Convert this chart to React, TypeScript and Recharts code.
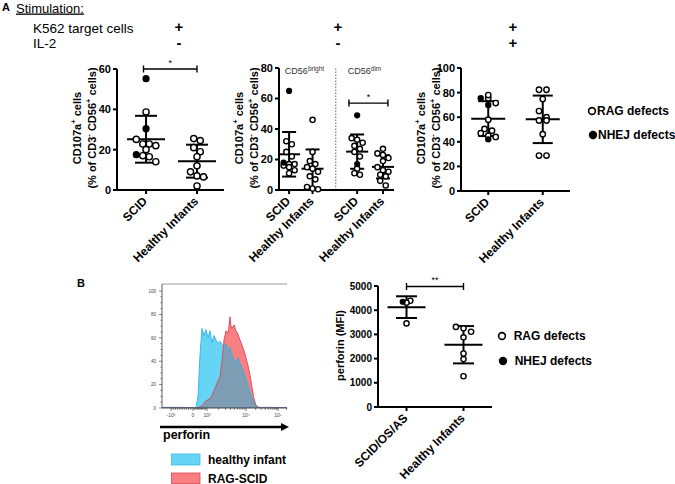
import React from 'react';
import {
  ScatterChart,
  Scatter,
  XAxis,
  YAxis,
  ReferenceLine,
  ComposedChart,
  Area,
  Line,
} from 'recharts';

const FONT = '"Liberation Sans", Arial, Helvetica, sans-serif';

// Panel A left: K562, CD107a+ of all NK cells
const a1ScidRag = [38.7, 25.1, 22.8, 22.8, 22, 20, 17, 16.5, 14];
const a1ScidNhej = [55.2, 30.4, 17.5];
const a1Healthy = [25.5, 24.5, 21, 19, 16.5, 12, 9, 7, 6.5, 2];

// Panel A middle: CD56bright / CD56dim subsets
const a2BrightScidRag = [32, 30, 25, 22, 17, 17, 16, 15, 13, 11];
const a2BrightScidNhej = [65, 18];
const a2BrightHealthy = [46, 25, 19, 17, 15, 14, 12, 9, 7, 2, 1, 0.5];
const a2DimScidRag = [34, 33, 31, 29, 27, 25, 22, 14, 11, 10];
const a2DimScidNhej = [49, 17];
const a2DimHealthy = [27, 24, 23, 21, 19, 15, 13, 12, 10, 9, 6, 3];

// Panel A right: K562 + IL-2
const a3ScidRag = [78, 75.5, 71.5, 58, 50.5, 49, 47, 45, 44];
const a3ScidNhej = [75.5, 70, 42];
const a3Healthy = [82.3, 82.3, 74.7, 65, 60, 57.3, 57.3, 46.2, 28.8, 28.8];

// Panel B right: perforin MFI
const bScidRag = [4310, 4390, 3454];
const bScidNhej = [4350];
const bHealthy = [3310, 3250, 3110, 2880, 2210, 1980, 1270];

// Panel B left: perforin histogram (% of max) on a 0-1024 channel scale
const histChannel = [
  0, 120, 240, 279, 295, 311, 328, 344, 360, 377, 393, 410, 426, 442, 459, 475, 492, 508, 524, 541,
  549, 557, 565, 573, 590, 606, 623, 639, 655, 672, 688, 705, 721, 737, 754, 770, 786, 803, 880, 960, 1024,
];
const histHealthy = [
  0.5, 0.6, 0.4, 0.5, 10, 45, 68, 62, 67, 60, 66, 56, 62, 58, 55, 57, 54, 52, 55, 50,
  51, 52, 49, 46, 41, 38, 43, 38, 34, 30, 25, 19, 14, 9, 5, 2.5, 1, 0.5, 0.6, 0.4, 0.5,
];
const histRag = [
  0, 0, 0, 0, 0, 1, 2, 4, 6, 7, 8, 11, 15, 19, 23, 27, 40, 58, 66, 64,
  70, 78, 70, 68, 71, 66, 63, 58, 54, 49, 43, 36, 28, 18, 8, 2, 0.5, 0, 0, 0, 0,
];
const histMajorCh = [74, 254, 369, 688, 950];
const histMajorLabels = ['-10³', '0', '10³', '10⁴', '10⁵'];

const k562Row = ['+', '+', '+'];
const il2Row = ['-', '-', '+'];

const mean = (a: number[]) => a.reduce((s, v) => s + v, 0) / a.length;
const sd = (a: number[]) => {
  const m = mean(a);
  return Math.sqrt(a.reduce((s, v) => s + (v - m) ** 2, 0) / (a.length - 1));
};

type Grp = { pos: number; label: string; rag: number[]; nhej: number[] };
type Bracket = { from: number; to: number; y: number; text: string };
type Note = { x: number; y: number; main: string; sup: string };
type Pt = { x: number; y: number };

type PanelProps = {
  x0: number;
  y0: number;
  x1: number;
  y1: number;
  xDomain: [number, number];
  yDomain: [number, number];
  yTicks: number[];
  groups: Grp[];
  r: number;
  rowPx: number;
  gapPx: number;
  meanHalf: number;
  capHalf: number;
  brackets: Bracket[];
  tickFont: number;
  notes?: Note[];
  dividers?: number[];
};

function DotPanel(p: PanelProps) {
  const ML = 40;
  const MR = 12;
  const MT = 14;
  const MB = 90;
  const w = p.x1 - p.x0 + ML + MR;
  const h = p.y1 - p.y0 + MT + MB;
  const pxX = (p.x1 - p.x0) / (p.xDomain[1] - p.xDomain[0]);
  const pxY = (p.y1 - p.y0) / (p.yDomain[1] - p.yDomain[0]);

  const open: Pt[] = [];
  const filled: Pt[] = [];
  const bars: Pt[][] = [];
  p.groups.forEach((g) => {
    const pts = [
      ...g.nhej.map((v) => ({ v, nhej: true })),
      ...g.rag.map((v) => ({ v, nhej: false })),
    ];
    // Prism-style scatter: points in the same row spread around the column centre
    const rows = new Map<number, typeof pts>();
    pts.forEach((pt) => {
      const k = Math.round((pt.v * pxY) / p.rowPx);
      if (!rows.has(k)) rows.set(k, []);
      rows.get(k)!.push(pt);
    });
    rows.forEach((row) =>
      row.forEach((pt, i) => {
        const d = { x: g.pos + ((i - (row.length - 1) / 2) * p.gapPx) / pxX, y: pt.v };
        (pt.nhej ? filled : open).push(d);
      })
    );
    const all = pts.map((pt) => pt.v);
    const m = mean(all);
    const s = sd(all);
    const mh = p.meanHalf / pxX;
    const ch = p.capHalf / pxX;
    bars.push([{ x: g.pos - mh, y: m }, { x: g.pos + mh, y: m }]);
    bars.push([{ x: g.pos, y: m - s }, { x: g.pos, y: m + s }]);
    bars.push([{ x: g.pos - ch, y: m + s }, { x: g.pos + ch, y: m + s }]);
    bars.push([{ x: g.pos - ch, y: m - s }, { x: g.pos + ch, y: m - s }]);
  });

  const brk: Pt[][] = [];
  const stars: { x: number; y: number; text: string }[] = [];
  p.brackets.forEach((b) => {
    const c = 3.5 / pxY;
    brk.push([{ x: b.from, y: b.y }, { x: b.to, y: b.y }]);
    brk.push([{ x: b.from, y: b.y - c }, { x: b.from, y: b.y + c }]);
    brk.push([{ x: b.to, y: b.y - c }, { x: b.to, y: b.y + c }]);
    stars.push({ x: (b.from + b.to) / 2, y: b.y, text: b.text });
  });

  const labelOf = (v: number) => p.groups.find((g) => g.pos === v)?.label ?? '';

  return (
    <div style={{ position: 'absolute', left: p.x0 - ML, top: p.y0 - MT }}>
      <ScatterChart width={w} height={h} margin={{ top: MT, right: MR, bottom: 0, left: 0 }}>
        <XAxis
          type="number"
          dataKey="x"
          domain={p.xDomain}
          ticks={p.groups.map((g) => g.pos)}
          interval={0}
          height={MB}
          tickSize={4}
          tickMargin={2}
          axisLine={{ stroke: '#000', strokeWidth: 2 }}
          tickLine={{ stroke: '#000', strokeWidth: 2 }}
          tick={(t: any) => (
            <text
              x={t.x - 4}
              y={t.y}
              transform={`rotate(-45 ${t.x - 4} ${t.y})`}
              textAnchor="end"
              dy="0.7em"
              fontSize={12}
              fontWeight={700}
              fontFamily={FONT}
              fill="#000"
            >
              {labelOf(t.payload.value)}
            </text>
          )}
        />
        <YAxis
          type="number"
          dataKey="y"
          domain={p.yDomain}
          ticks={p.yTicks}
          interval={0}
          width={ML}
          tickSize={4}
          tickMargin={2}
          axisLine={{ stroke: '#000', strokeWidth: 2 }}
          tickLine={{ stroke: '#000', strokeWidth: 2 }}
          tick={{ fill: '#000', fontSize: p.tickFont, fontWeight: 700, fontFamily: FONT }}
        />
        {(p.dividers ?? []).map((x) => (
          <ReferenceLine
            key={`div${x}`}
            segment={[{ x, y: p.yDomain[0] }, { x, y: p.yDomain[1] }]}
            stroke="#666"
            strokeWidth={1}
            strokeDasharray="1.5 1.5"
            ifOverflow="visible"
          />
        ))}
        <Scatter
          data={open}
          isAnimationActive={false}
          shape={(s: any) => (
            <circle cx={s.cx} cy={s.cy} r={p.r} fill="#fff" stroke="#000" strokeWidth={1.4} />
          )}
        />
        <Scatter
          data={filled}
          isAnimationActive={false}
          shape={(s: any) => <circle cx={s.cx} cy={s.cy} r={p.r + 0.5} fill="#000" />}
        />
        {bars.map((seg, i) => (
          <ReferenceLine
            key={`bar${i}`}
            segment={seg}
            stroke="#000"
            strokeWidth={2}
            ifOverflow="visible"
          />
        ))}
        {brk.map((seg, i) => (
          <ReferenceLine
            key={`brk${i}`}
            segment={seg}
            stroke="#000"
            strokeWidth={1.4}
            ifOverflow="visible"
          />
        ))}
        <Scatter
          data={stars}
          isAnimationActive={false}
          shape={(s: any) => (
            <text x={s.cx} y={s.cy - 3} textAnchor="middle" fontSize={9} fontFamily={FONT} fill="#000">
              {s.payload.text}
            </text>
          )}
        />
        {p.notes && (
          <Scatter
            data={p.notes}
            isAnimationActive={false}
            shape={(s: any) => (
              <text x={s.cx} y={s.cy} fontSize={9} fontFamily={FONT} fill="#333">
                {s.payload.main}
                <tspan fontSize={6.5} dy={-3.5}>
                  {s.payload.sup}
                </tspan>
              </text>
            )}
          />
        )}
      </ScatterChart>
    </div>
  );
}

// biexponential-like channel position for minor ticks of the flow axis
const histMinor = (() => {
  const out: number[] = [];
  const [cNeg, c0, c3, c4, c5] = histMajorCh;
  for (let m = 1; m < 10; m++) out.push(c0 - (m / 10) * (c0 - cNeg));
  for (let m = 1; m < 10; m++) out.push(c0 + (m / 10) * (c3 - c0));
  for (let m = 2; m < 10; m++) out.push(c3 + Math.log10(m) * (c4 - c3));
  for (let m = 2; m < 10; m++) out.push(c4 + Math.log10(m) * (c5 - c4));
  out.push(c5 + Math.log10(2) * (c5 - c4) * 0.9);
  return out.map((v) => Math.round(v * 10) / 10);
})();
const histYTicks = Array.from({ length: 21 }, (_, i) => i * 5);

function Histogram() {
  const x0 = 162;
  const x1 = 287;
  const y0 = 284;
  const y1 = 408;
  const ML = 22;
  const MR = 6;
  const MT = 4;
  const MB = 16;
  const data = histChannel.map((ch, i) => ({
    ch,
    healthy: histHealthy[i],
    rag: histRag[i],
    both: Math.min(histHealthy[i], histRag[i]),
  }));
  return (
    <div style={{ position: 'absolute', left: x0 - ML, top: y0 - MT }}>
      <ComposedChart
        width={x1 - x0 + ML + MR}
        height={y1 - y0 + MT + MB}
        data={data}
        margin={{ top: MT, right: MR, bottom: 0, left: 0 }}
      >
        <XAxis
          type="number"
          dataKey="ch"
          domain={[0, 1024]}
          ticks={[...histMajorCh, ...histMinor]}
          interval={0}
          allowDataOverflow
          height={MB}
          tickSize={0}
          tickMargin={0}
          tickLine={false}
          axisLine={{ stroke: '#222', strokeWidth: 0.8 }}
          tick={(t: any) => {
            const i = histMajorCh.indexOf(t.payload.value);
            return (
              <g>
                <line x1={t.x} x2={t.x} y1={t.y} y2={t.y + (i >= 0 ? 3 : 1.8)} stroke="#222" strokeWidth={0.6} />
                {i >= 0 && (
                  <text x={t.x} y={t.y + 9} textAnchor="middle" fontSize={5} fontFamily={FONT} fill="#444">
                    {histMajorLabels[i]}
                  </text>
                )}
              </g>
            );
          }}
        />
        <YAxis
          type="number"
          domain={[0, 106]}
          ticks={histYTicks}
          interval={0}
          allowDataOverflow
          width={ML}
          tickSize={0}
          tickMargin={0}
          tickLine={false}
          axisLine={{ stroke: '#333', strokeWidth: 0.8 }}
          tick={(t: any) => {
            const major = t.payload.value % 20 === 0;
            return (
              <g>
                <line x1={t.x - (major ? 3 : 1.6)} x2={t.x} y1={t.y} y2={t.y} stroke="#333" strokeWidth={0.6} />
                {major && (
                  <text x={t.x - 6} y={t.y + 1.7} textAnchor="end" fontSize={4.5} fontFamily={FONT} fill="#444">
                    {t.payload.value}
                  </text>
                )}
              </g>
            );
          }}
        />
        <ReferenceLine y={106} stroke="#999" strokeWidth={1} />
        <Area type="linear" dataKey="healthy" fill="#66d4f5" fillOpacity={1} stroke="none" isAnimationActive={false} />
        <Area type="linear" dataKey="rag" fill="#f87f82" fillOpacity={1} stroke="none" isAnimationActive={false} />
        <Area type="linear" dataKey="both" fill="#7d9db4" fillOpacity={1} stroke="none" isAnimationActive={false} />
        <Line type="linear" dataKey="healthy" stroke="#2fb3e3" strokeWidth={0.9} dot={false} isAnimationActive={false} />
        <Line type="linear" dataKey="rag" stroke="#dd4456" strokeWidth={0.9} dot={false} isAnimationActive={false} />
      </ComposedChart>
    </div>
  );
}

const CD107Title = ({ x1, x2, cy }: { x1: number; x2: number; cy: number }) => (
  <g fontFamily={FONT} fontWeight={700} fontSize={11} fill="#000">
    <text transform={`translate(${x1},${cy}) rotate(-90)`} textAnchor="middle" dominantBaseline="central">
      CD107a
      <tspan fontSize={7.5} dy={-4}>
        +
      </tspan>
      <tspan dy={4}> cells</tspan>
    </text>
    <text transform={`translate(${x2},${cy}) rotate(-90)`} textAnchor="middle" dominantBaseline="central">
      (% of CD3
      <tspan fontSize={7.5} dy={-4}>
        -
      </tspan>
      <tspan dy={4}> CD56</tspan>
      <tspan fontSize={7.5} dy={-4}>
        +
      </tspan>
      <tspan dy={4}> cells)</tspan>
    </text>
  </g>
);

const LegendItem = ({ x, y, filled, text }: { x: number; y: number; filled: boolean; text: string }) => (
  <g>
    <circle cx={x} cy={y} r={3.4} fill={filled ? '#000' : '#fff'} stroke="#000" strokeWidth={1.6} />
    <text x={x + 5} y={y + 4.2} fontSize={12} fontWeight={700} fontFamily={FONT} fill="#000" xmlSpace="preserve">
      {text}
    </text>
  </g>
);

export default function App() {
  const cols = [179, 338, 513];
  return (
    <div
      style={{
        position: 'absolute',
        left: 0,
        top: 0,
        width: 675,
        height: 484,
        background: '#fff',
        overflow: 'hidden',
        fontFamily: FONT,
      }}
    >
      <DotPanel
        x0={117}
        y0={69}
        x1={224}
        y1={190}
        xDomain={[0.43, 2.53]}
        yDomain={[0, 60]}
        yTicks={[0, 20, 40, 60]}
        groups={[
          { pos: 1, label: 'SCID', rag: a1ScidRag, nhej: a1ScidNhej },
          { pos: 2, label: 'Healthy Infants', rag: a1Healthy, nhej: [] },
        ]}
        r={3.1}
        rowPx={8}
        gapPx={6.5}
        meanHalf={19}
        capHalf={11}
        brackets={[{ from: 0.95, to: 2, y: 60, text: '*' }]}
        tickFont={11}
      />
      <DotPanel
        x0={279}
        y0={68}
        x1={394}
        y1={190}
        xDomain={[0.57, 5.47]}
        yDomain={[0, 80]}
        yTicks={[0, 20, 40, 60, 80]}
        groups={[
          { pos: 1, label: 'SCID', rag: a2BrightScidRag, nhej: a2BrightScidNhej },
          { pos: 2, label: 'Healthy Infants', rag: a2BrightHealthy, nhej: [] },
          { pos: 3.9, label: 'SCID', rag: a2DimScidRag, nhej: a2DimScidNhej },
          { pos: 5, label: 'Healthy Infants', rag: a2DimHealthy, nhej: [] },
        ]}
        r={2.6}
        rowPx={7}
        gapPx={5.5}
        meanHalf={11}
        capHalf={7}
        brackets={[{ from: 3.55, to: 5.21, y: 57, text: '*' }]}
        tickFont={11}
        dividers={[2.99]}
        notes={[
          { x: 0.82, y: 76, main: 'CD56', sup: 'bright' },
          { x: 3.5, y: 76, main: 'CD56', sup: 'dim' },
        ]}
      />
      <DotPanel
        x0={461}
        y0={68}
        x1={570}
        y1={191}
        xDomain={[0.5, 2.5]}
        yDomain={[0, 100]}
        yTicks={[0, 20, 40, 60, 80, 100]}
        groups={[
          { pos: 1, label: 'SCID', rag: a3ScidRag, nhej: a3ScidNhej },
          { pos: 2, label: 'Healthy Infants', rag: a3Healthy, nhej: [] },
        ]}
        r={2.7}
        rowPx={7}
        gapPx={7.5}
        meanHalf={17}
        capHalf={10}
        brackets={[]}
        tickFont={11}
      />
      <DotPanel
        x0={378}
        y0={286}
        x1={492}
        y1={407}
        xDomain={[0.5, 2.5]}
        yDomain={[0, 5000]}
        yTicks={[0, 1000, 2000, 3000, 4000, 5000]}
        groups={[
          { pos: 1, label: 'SCID/OS/AS', rag: bScidRag, nhej: bScidNhej },
          { pos: 2, label: 'Healthy Infants', rag: bHealthy, nhej: [] },
        ]}
        r={2.6}
        rowPx={6}
        gapPx={7.6}
        meanHalf={19}
        capHalf={10.5}
        brackets={[{ from: 1, to: 2, y: 4980, text: '**' }]}
        tickFont={10}
      />
      <Histogram />

      <svg
        width={675}
        height={484}
        style={{ position: 'absolute', left: 0, top: 0, pointerEvents: 'none' }}
        fontFamily={FONT}
      >
        <text x={2} y={11} fontSize={11} fontWeight={700}>
          A
        </text>
        <text x={16} y={12.5} fontSize={13} textDecoration="underline">
          Stimulation:
        </text>
        <text x={33} y={32.5} fontSize={13.5}>
          K562 target cells
        </text>
        <text x={33} y={48} fontSize={13.5}>
          IL-2
        </text>
        {k562Row.map((s, i) => (
          <text key={`k${i}`} x={cols[i]} y={32} fontSize={15} fontWeight={700} textAnchor="middle">
            {s}
          </text>
        ))}
        {il2Row.map((s, i) => (
          <text key={`i${i}`} x={cols[i]} y={47.5} fontSize={15} fontWeight={700} textAnchor="middle">
            {s}
          </text>
        ))}

        <CD107Title x1={77} x2={92} cy={128} />
        <CD107Title x1={239} x2={254} cy={128} />
        <CD107Title x1={421} x2={436} cy={128} />

        <LegendItem x={592} y={111} filled={false} text="RAG defects" />
        <LegendItem x={593} y={135} filled={true} text="NHEJ defects" />

        <text x={77} y={287} fontSize={11} fontWeight={700}>
          B
        </text>

        <line x1={160} y1={427} x2={283} y2={427} stroke="#000" strokeWidth={2.5} />
        <polygon points="281,423 289,427 281,431" fill="#000" />
        <text x={163} y={439} fontSize={12.5} fontWeight={700}>
          perforin
        </text>
        <rect x={171.5} y={454} width={28.5} height={11} fill="#66d4f5" stroke="#3bbbe6" strokeWidth={0.8} />
        <text x={208} y={463.5} fontSize={12} fontWeight={700}>
          healthy infant
        </text>
        <rect x={171.5} y={473} width={28.5} height={10.5} fill="#f87f82" stroke="#dd4456" strokeWidth={0.8} />
        <text x={208} y={482.5} fontSize={12} fontWeight={700}>
          RAG-SCID
        </text>

        <text
          transform="translate(340,345.5) rotate(-90)"
          textAnchor="middle"
          dominantBaseline="central"
          fontSize={11}
          fontWeight={700}
        >
          perforin (MFI)
        </text>
        <LegendItem x={502} y={336} filled={false} text="  RAG defects" />
        <LegendItem x={503} y={361} filled={true} text="  NHEJ defects" />
      </svg>
    </div>
  );
}
